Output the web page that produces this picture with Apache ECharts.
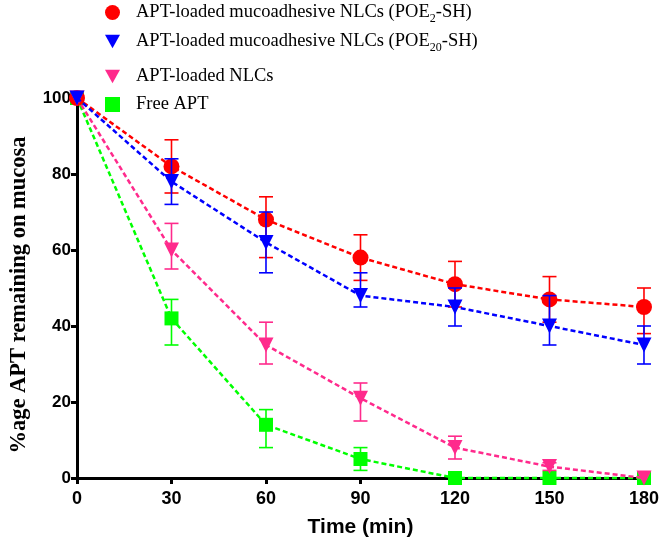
<!DOCTYPE html>
<html>
<head>
<meta charset="utf-8">
<script src="https://cdn.jsdelivr.net/npm/echarts@6/dist/echarts.min.js"></script>
<style>
  html, body { margin: 0; padding: 0; background: #fff; }
  #chart { width: 662px; height: 544px; }
</style>
</head>
<body>
<div id="chart"></div>
<script>
// time points (min)
const times = [0, 30, 60, 90, 120, 150, 180];

// APT-loaded mucoadhesive NLCs (POE2-SH)
const poe2 = [100, 82, 68, 58, 51, 47, 45];
const poe2Lo = [100, 75, 58, 52, 45, 41, 38];
const poe2Hi = [100, 89, 74, 64, 57, 53, 50];

// APT-loaded mucoadhesive NLCs (POE20-SH)
const poe20 = [100, 78, 62, 48, 45, 40, 35];
const poe20Lo = [100, 72, 54, 45, 40, 35, 30];
const poe20Hi = [100, 84, 70, 54, 50, 48, 40];

// APT-loaded NLCs
const nlc = [100, 60, 35, 21, 8, 3, 0];
const nlcLo = [100, 55, 30, 15, 5, 2, 0];
const nlcHi = [100, 67, 41, 25, 11, 4, 0];

// Free APT
const freeApt = [100, 42, 14, 5, 0, 0, 0];
const freeLo = [100, 35, 8, 2, 0, 0, 0];
const freeHi = [100, 47, 18, 8, 0, 0, 0];

const xTicks = [0, 30, 60, 90, 120, 150, 180];

const names = ['poe2', 'poe20', 'nlc', 'free'];
const labels = {
    poe2: '{g| }{t|APT-loaded mucoadhesive NLCs (POE}{s|2}{t|-SH)}',
    poe20: '{g| }{t|APT-loaded mucoadhesive NLCs (POE}{s|20}{t|-SH)}',
    nlc: '{g| }{t|APT-loaded NLCs}',
    free: '{g| }{t|Free APT}'
};
const colors = { poe2: '#ff0000', poe20: '#0000ff', nlc: '#ff2a8c', free: '#00ff00' };
const downTri = 'path://M0,0 L10,0 L5,9 Z';
const icons = { poe2: 'circle', poe20: downTri, nlc: downTri, free: 'rect' };
const legendTops = [3, 32, 67, 95];

const chart = echarts.init(document.getElementById('chart'));

function pairs(ys) {
    return times.map((t, i) => [t, ys[i]]);
}
function bars(lo, hi) {
    return times.map((t, i) => [t, lo[i], hi[i]]);
}

function errorBars(color) {
    return function (params, api) {
        const x = api.value(0), lo = api.value(1), hi = api.value(2);
        if (hi - lo < 0.01) return { type: 'group', children: [] };
        const a = api.coord([x, hi]);
        const b = api.coord([x, lo]);
        const w = 7;
        const st = { stroke: color, lineWidth: 1.6 };
        return {
            type: 'group',
            children: [
                { type: 'line', shape: { x1: a[0], y1: a[1], x2: b[0], y2: b[1] }, style: st },
                { type: 'line', shape: { x1: a[0] - w, y1: a[1], x2: a[0] + w, y2: a[1] }, style: st },
                { type: 'line', shape: { x1: b[0] - w, y1: b[1], x2: b[0] + w, y2: b[1] }, style: st }
            ]
        };
    };
}

function lineSeries(name, ys, symbol, size, z) {
    return {
        name: name,
        type: 'line',
        data: pairs(ys),
        symbol: symbol,
        symbolSize: size,
        showAllSymbol: true,
        clip: false,
        z: z,
        lineStyle: { color: colors[name], width: 2.5, type: [5, 3] },
        itemStyle: { color: colors[name] }
    };
}

function errSeries(name, lo, hi, z) {
    return {
        name: name + '-err',
        type: 'custom',
        data: bars(lo, hi),
        encode: { x: 0, y: [1, 2] },
        renderItem: errorBars(colors[name]),
        clip: false,
        z: z
    };
}

const option = {
    animation: false,
    backgroundColor: '#fff',
    legend: names.map((n, i) => ({
        data: [{ name: n, icon: icons[n] }],
        left: 105,
        top: legendTops[i],
        padding: 0,
        itemWidth: 15,
        itemHeight: 15,
        selectedMode: false,
        formatter: (nm) => labels[nm],
        textStyle: {
            color: '#000',
            rich: {
                g: { width: 11 },
                t: { fontFamily: 'Liberation Serif', fontSize: 18.5, lineHeight: 24, color: '#000' },
                s: { fontFamily: 'Liberation Serif', fontSize: 12, lineHeight: 12, verticalAlign: 'bottom', color: '#000' }
            }
        }
    })),
    grid: { left: 74, right: 17, top: 98, bottom: 66 },
    xAxis: {
        type: 'value',
        min: 0,
        max: 180,
        interval: 30,
        name: 'Time (min)',
        nameLocation: 'middle',
        nameGap: 39,
        nameTextStyle: { fontFamily: 'Liberation Sans', fontWeight: 'bold', fontSize: 21, color: '#000' },
        splitLine: { show: false },
        axisLine: { lineStyle: { color: '#000', width: 3 } },
        axisTick: { length: 6, lineStyle: { color: '#000', width: 3 } },
        axisLabel: {
            margin: 12,
            fontFamily: 'Liberation Sans',
            fontWeight: 'bold',
            fontSize: 18,
            color: '#000',
            formatter: (v) => xTicks.indexOf(v) >= 0 ? String(v) : ''
        }
    },
    yAxis: {
        type: 'value',
        min: 0,
        max: 100,
        interval: 20,
        name: '%age APT remaining on mucosa',
        nameLocation: 'middle',
        nameGap: 46,
        nameRotate: 90,
        nameTextStyle: {
            fontFamily: 'Liberation Serif', fontWeight: 'bold', fontSize: 22.5, color: '#000',
            padding: [0, 14, 0, 0]
        },
        splitLine: { show: false },
        axisLine: { show: true, lineStyle: { color: '#000', width: 3 } },
        axisTick: { show: true, length: 6, lineStyle: { color: '#000', width: 3 } },
        axisLabel: {
            margin: 6,
            fontFamily: 'Liberation Sans',
            fontWeight: 'bold',
            fontSize: 17,
            color: '#000'
        }
    },
    series: [
        errSeries('free', freeLo, freeHi, 2),
        lineSeries('free', freeApt, 'rect', 14, 3),
        errSeries('poe2', poe2Lo, poe2Hi, 4),
        lineSeries('poe2', poe2, 'circle', 16, 5),
        errSeries('nlc', nlcLo, nlcHi, 6),
        lineSeries('nlc', nlc, downTri, 15, 7),
        errSeries('poe20', poe20Lo, poe20Hi, 8),
        lineSeries('poe20', poe20, downTri, 15, 9)
    ]
};

chart.setOption(option);
</script>
</body>
</html>
